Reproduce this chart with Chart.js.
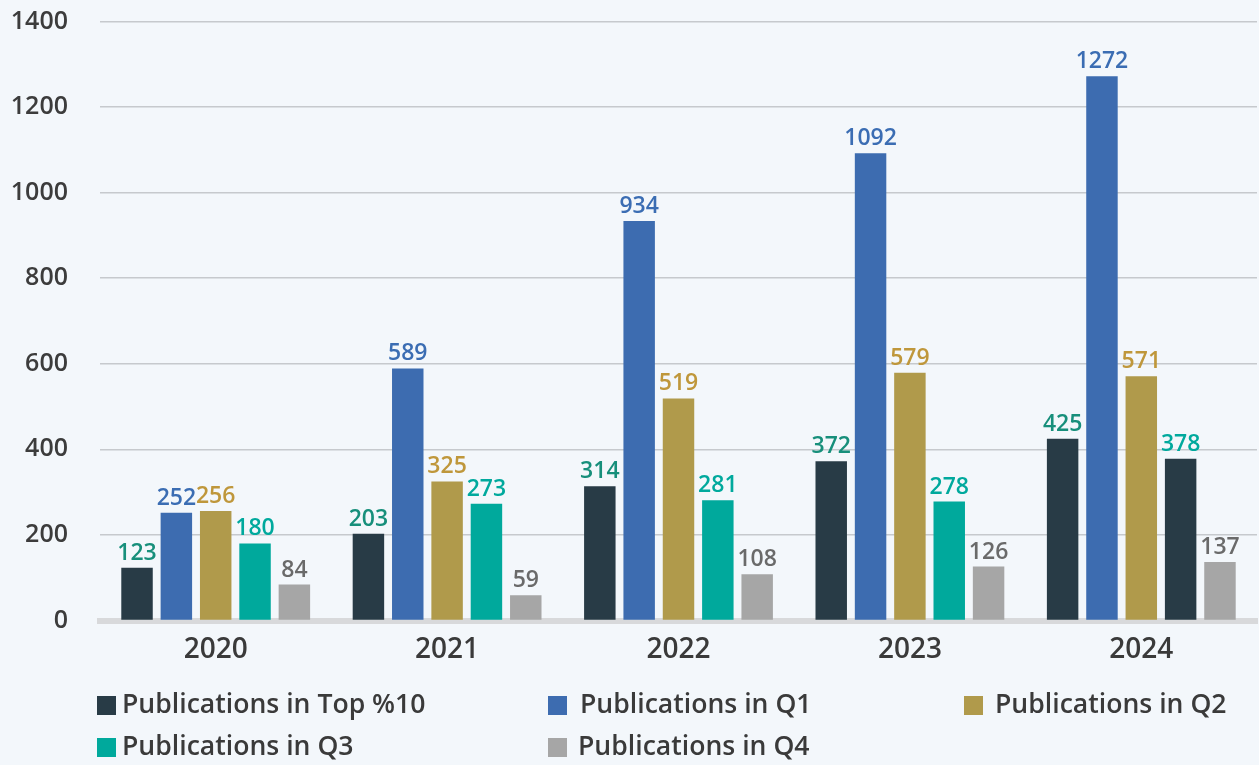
<!DOCTYPE html>
<html><head><meta charset="utf-8">
<script src="https://cdn.jsdelivr.net/npm/chart.js@4.4.1/dist/chart.umd.min.js"></script>
<style>
html,body{margin:0;padding:0;background:#f3f7fb;}
#wrap{position:relative;width:1259px;height:765px;overflow:hidden;background:#f3f7fb;}
canvas{position:absolute;left:0;top:0;}
.lgt{position:absolute;font-family:'Open Sans',sans-serif;font-weight:600;font-size:26.6px;color:#3a3a3a;white-space:nowrap;line-height:30px;height:30px;}
.sq{position:absolute;width:19px;height:19px;}
</style></head><body>
<div id="wrap"><canvas id="c" width="1259" height="765"></canvas><div id="legend"></div></div>
<script>
// ---- data ----
const categories = ['2020', '2021', '2022', '2023', '2024'];
const seriesNames = ['Publications in Top %10', 'Publications in Q1', 'Publications in Q2', 'Publications in Q3', 'Publications in Q4'];
const top10 = [123, 203, 314, 372, 425];
const q1 = [252, 589, 934, 1092, 1272];
const q2 = [256, 325, 519, 579, 571];
const q3 = [180, 273, 281, 278, 378];
const q4 = [84, 59, 108, 126, 137];
const yTicks = [0, 200, 400, 600, 800, 1000, 1200, 1400];

// ---- styles ----
const NAVY = '#283b46', BLUE = '#3d6cb0', GOLD = '#b09a4b', TEAL = '#00a99c', GRAY = '#a6a6a6';
const barColors = [NAVY, BLUE, GOLD, [TEAL, TEAL, TEAL, TEAL, NAVY], GRAY];
const legendColors = [NAVY, BLUE, GOLD, TEAL, GRAY];
const labelColors = ['#178f7b', '#3b6db3', '#bf973b', '#00a99d', '#6a6a6a'];
const FONT = "'Open Sans', sans-serif";

const seriesValues = [top10, q1, q2, q3, q4];

const valueLabels = {
  id: 'valueLabels',
  afterDatasetsDraw(chart) {
    const ctx = chart.ctx;
    ctx.save();
    ctx.font = "600 23px 'Open Sans'";
    ctx.textAlign = 'center';
    ctx.textBaseline = 'alphabetic';
    chart.data.datasets.forEach((ds, i) => {
      const meta = chart.getDatasetMeta(i);
      meta.data.forEach((bar, j) => {
        ctx.fillStyle = labelColors[i];
        ctx.fillText(String(ds.data[j]), bar.x, bar.y - 8);
      });
    });
    ctx.restore();
  }
};

function build() {
  const chart = new Chart(document.getElementById('c'), {
    type: 'bar',
    data: {
      labels: categories,
      datasets: seriesNames.map((name, i) => ({
        label: name,
        data: seriesValues[i],
        backgroundColor: barColors[i],
        borderWidth: 0,
        categoryPercentage: 0.85,
        barPercentage: 0.8
      }))
    },
    options: {
      responsive: false,
      animation: false,
      devicePixelRatio: 1,
      layout: { padding: { top: 21.5, right: 2, left: 0, bottom: 0 } },
      plugins: { legend: { display: false }, tooltip: { enabled: false } },
      scales: {
        x: {
          grid: { display: false },
          border: { display: true, color: '#d8d9db', width: 6 },
          ticks: { color: '#3a3a3a', font: { family: FONT, size: 28, weight: '600' }, padding: 5 },
          afterFit(scale) { scale.height = 765 - 620.5; scale.paddingLeft = 0; scale.paddingRight = 0; }
        },
        y: {
          min: 0, max: 1400,
          afterBuildTicks(scale) { scale.ticks = yTicks.map(v => ({ value: v })); },
          grid: {
            drawTicks: false,
            lineWidth: 1.5,
            color: (c) => (c.tick && c.tick.value === 0) ? 'rgba(0,0,0,0)' : '#c6c9cd'
          },
          border: { display: false },
          ticks: {
            color: '#3c3c3c', font: { family: FONT, size: 25, weight: '600' }, padding: 32,
            callback: (v) => String(v)
          },
          afterFit(scale) { scale.width = 100; scale.paddingTop = 0; scale.paddingBottom = 0; }
        }
      }
    },
    plugins: [valueLabels]
  });

  // HTML legend built from the chart's datasets
  const sqX = [97, 548, 964, 97, 548];
  const txX = [122, 580, 995, 122, 578];
  const rowY = [705, 747];
  const lg = document.getElementById('legend');
  chart.data.datasets.forEach((ds, i) => {
    const row = i < 3 ? 0 : 1;
    const sq = document.createElement('div');
    sq.className = 'sq';
    sq.style.left = sqX[i] + 'px';
    sq.style.top = (rowY[row] - 9.5) + 'px';
    sq.style.background = legendColors[i];
    lg.appendChild(sq);
    const t = document.createElement('div');
    t.className = 'lgt';
    t.style.left = txX[i] + 'px';
    t.style.top = (rowY[row] - 17) + 'px';
    t.textContent = ds.label;
    lg.appendChild(t);
  });
}

if (document.fonts && document.fonts.load) {
  Promise.all([
    document.fonts.load("600 23px 'Open Sans'"),
    document.fonts.load("600 28px 'Open Sans'")
  ]).then(build, build);
} else { build(); }
</script>
</body></html>
